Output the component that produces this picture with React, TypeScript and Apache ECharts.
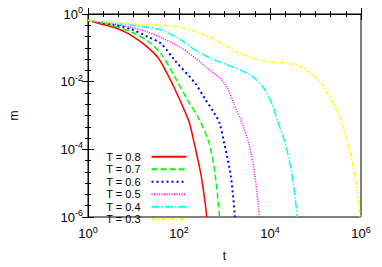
import React, { useEffect, useRef } from "react";
import * as echarts from "echarts";

// Temperatures (legend labels)
const temps = ["0.8", "0.7", "0.6", "0.5", "0.4", "0.3"];

// Time t and magnetisation m for each temperature
const t08 = [1, 2, 4.7, 9.1, 18, 35, 58, 80, 132, 170, 219, 309, 380, 407];
const m08 = [0.65, 0.5, 0.36, 0.23, 0.12, 0.05, 0.015, 0.0063, 0.0014, 6e-4, 1.4e-4, 1.6e-5, 2.3e-6, 1e-6];

const t07 = [1, 3.2, 9.1, 21, 41, 80, 158, 282, 468, 631, 776];
const m07 = [0.65, 0.47, 0.29, 0.155, 0.065, 0.014, 0.0027, 7.4e-4, 1.4e-4, 1.6e-5, 1e-6];

const t06 = [1, 3.2, 9.1, 21, 41, 80, 219, 363, 603, 776, 1000, 1380, 1698];
const m06 = [0.65, 0.5, 0.35, 0.21, 0.13, 0.043, 0.0095, 0.0033, 0.00115, 6e-4, 1.4e-4, 1.6e-5, 1e-6];

const t05 = [1, 3.2, 9.1, 21, 41, 112, 219, 427, 832, 1175, 1622, 2291, 3467, 4677, 5888];
const m05 = [0.65, 0.52, 0.4, 0.29, 0.2, 0.1, 0.052, 0.025, 0.012, 0.0063, 0.0021, 7.4e-4, 1.4e-4, 1.6e-5, 1e-6];

const t04 = [1, 3.2, 9.1, 21, 41, 112, 219, 513, 1175, 2291, 4467, 7413, 11220, 14454, 21878, 30903, 39811];
const m04 = [0.65, 0.55, 0.47, 0.4, 0.34, 0.17, 0.089, 0.048, 0.031, 0.022, 0.013, 0.0063, 0.0021, 7.4e-4, 1.4e-4, 1.6e-5, 1e-6];

const t03 = [1, 3.2, 10, 41, 112, 309, 832, 1950, 4467, 10233, 25704, 54954, 128825, 251189, 380189, 524807, 741310, 954993];
const m03 = [0.65, 0.56, 0.51, 0.47, 0.4, 0.26, 0.14, 0.072, 0.048, 0.038, 0.035, 0.025, 0.0095, 0.0021, 6e-4, 1.4e-4, 1.6e-5, 1e-6];

const tData = [t08, t07, t06, t05, t04, t03];
const mData = [m08, m07, m06, m05, m04, m03];

// Axis ranges as powers of ten
const xExpMin = 0;
const xExpMax = 6;
const yExpMin = -6;
const yExpMax = 0;

const colors = ["#ff0000", "#00ff00", "#0000ff", "#ff00ff", "#00ffff", "#ffff00"];
const dashes: (string | number[])[] = ["solid", [6, 3], [2, 3], [1, 1.5], [8, 2, 1.5, 2], [4, 2, 1.5, 2]];
const widths = [1.5, 1.5, 2, 1.5, 1.5, 1.5];

const FONT = "'Liberation Sans', Arial, Helvetica, sans-serif";

const powLabel = (v: number) => `{a|10}{b|${Math.round(v)}}`;
const richPow = {
  a: { fontSize: 13, fontFamily: FONT, color: "#000" },
  b: { fontSize: 9, padding: [0, 0, 8, 0], fontFamily: FONT, color: "#000" },
};

export default function App() {
  const ref = useRef<HTMLDivElement>(null);
  useEffect(() => {
    if (!ref.current) return;
    const chart = echarts.init(ref.current, undefined, { renderer: "svg" });
    const axisCommon = {
      type: "value" as const,
      axisLine: { show: true, lineStyle: { color: "#000", width: 1 } },
      axisTick: { show: true, inside: true, length: 6, lineStyle: { color: "#000" } },
      minorTick: { show: true, splitNumber: 6, length: 3, lineStyle: { color: "#000" } },
      splitLine: { show: false },
      minorSplitLine: { show: false },
    };
    chart.setOption({
      animation: false,
      backgroundColor: "#fff",
      grid: { left: 86, right: 21, top: 14, bottom: 37, show: true, borderColor: "#000", borderWidth: 1 },
      legend: {
        orient: "vertical",
        left: 106,
        top: 150.5,
        padding: 0,
        align: "right",
        itemWidth: 35,
        itemHeight: 10,
        itemGap: 0,
        itemStyle: { opacity: 0, borderWidth: 0 },
        textStyle: { fontSize: 11, fontFamily: FONT, color: "#000", lineHeight: 12.5, padding: [0, 6, 0, 0] },
        data: temps.map((t) => "T = " + t),
      },
      xAxis: [
        {
          ...axisCommon,
          position: "bottom",
          min: xExpMin,
          max: xExpMax,
          interval: 2,
          name: "t",
          nameLocation: "middle",
          nameGap: 33,
          nameTextStyle: { fontSize: 12, fontFamily: FONT, color: "#000" },
          axisLabel: { formatter: powLabel, rich: richPow, margin: 8 },
        },
        {
          ...axisCommon,
          position: "top",
          min: xExpMin,
          max: xExpMax,
          interval: 2,
          axisLabel: { show: false },
        },
      ],
      yAxis: [
        {
          ...axisCommon,
          position: "left",
          min: yExpMin,
          max: yExpMax,
          interval: 2,
          name: "m",
          nameLocation: "middle",
          nameRotate: 90,
          nameGap: 68,
          nameTextStyle: { fontSize: 12, fontFamily: FONT, color: "#000" },
          axisLabel: { formatter: powLabel, rich: richPow, margin: 5 },
        },
        {
          ...axisCommon,
          position: "right",
          min: yExpMin,
          max: yExpMax,
          interval: 2,
          axisLabel: { show: false },
        },
      ],
      series: temps.map((tp, k) => ({
        name: "T = " + tp,
        type: "line",
        xAxisIndex: 0,
        yAxisIndex: 0,
        showSymbol: false,
        symbol: "none",
        smooth: 0.3,
        clip: true,
        color: colors[k],
        lineStyle: { color: colors[k], width: widths[k], type: dashes[k] },
        data: tData[k].map((t, i) => [Math.log10(t), Math.log10(mData[k][i])]),
      })),
    });
    return () => chart.dispose();
  }, []);
  return (
    <div
      ref={ref}
      style={{ position: "fixed", left: 0, top: 0, width: 382, height: 267, background: "#fff" }}
    />
  );
}
